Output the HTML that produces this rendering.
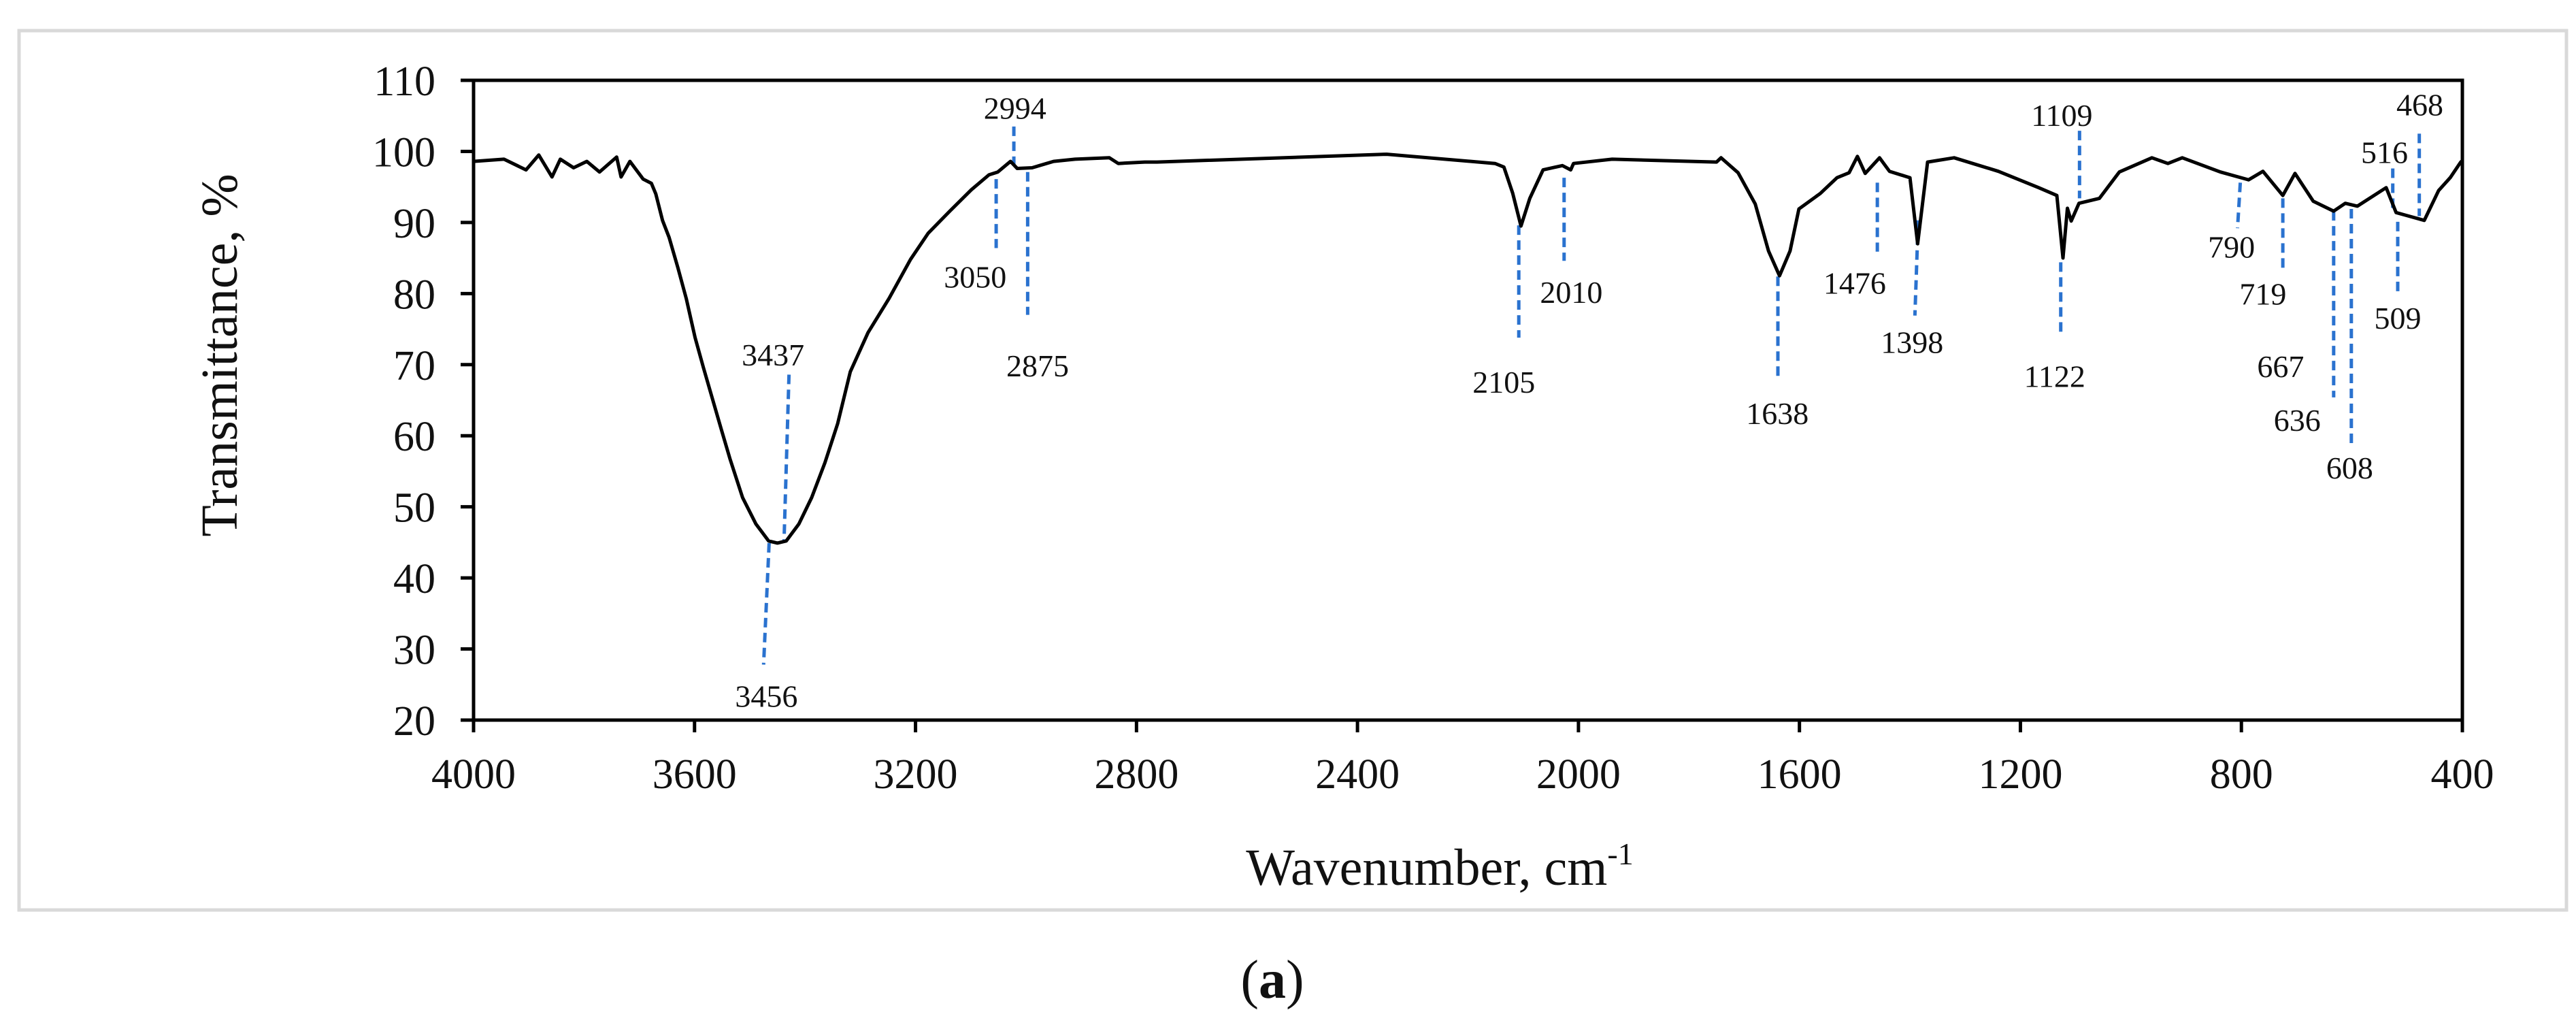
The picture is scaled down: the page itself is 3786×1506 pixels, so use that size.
<!DOCTYPE html>
<html><head><meta charset="utf-8"><style>
html,body{margin:0;padding:0;background:#fff;}
svg{display:block;}
text{font-family:"Liberation Serif",serif;fill:#111;}
</style></head><body>
<svg id="chart" width="3786" height="1506" viewBox="0 0 3786 1506" xmlns="http://www.w3.org/2000/svg">
<rect x="28" y="45" width="3744" height="1292" fill="#fff" stroke="#d9d9d9" stroke-width="5"/>
<g id="annots"></g>
<path id="curve" fill="none" stroke="#000" stroke-width="5" stroke-linejoin="round"/>
<rect x="696" y="118" width="2923" height="940" fill="none" stroke="#000" stroke-width="5"/>
<g id="yticks"></g>
<g id="xticks"></g>
<text transform="translate(348,522) rotate(-90)" text-anchor="middle" font-size="76">Transmittance,  %</text>
<text x="2116" y="1300" text-anchor="middle" font-size="76">Wavenumber,  cm<tspan font-size="46" dy="-30">-1</tspan></text>
<text x="1870" y="1466" text-anchor="middle" font-size="80">(<tspan font-weight="bold">a</tspan>)</text>
</svg>
<script>
const wavenumbers=[4000,3945,3905,3882,3858,3843,3819,3795,3772,3741,3733,3717,3693,3678,3670,3658,3646,3630,3615,3599,3584,3568,3552,3536,3513,3489,3466,3450,3434,3411,3388,3364,3341,3318,3286,3248,3209,3177,3138,3099,3067,3051,3028,3016,2989,2950,2911,2849,2833,2785,2763,2347,2151,2135,2119,2104,2088,2064,2029,2014,2009,1939,1750,1742,1711,1680,1656,1636,1617,1601,1562,1532,1510,1495,1481,1455,1437,1400,1386,1368,1320,1240,1167,1134,1123,1115,1108,1094,1057,1021,962,933,907,838,787,761,725,703,670,633,612,590,538,520,502,469,443,422,403,400];
const transmittance=[98.6,98.9,97.4,99.5,96.4,98.9,97.7,98.6,97.1,99.2,96.4,98.6,96.1,95.5,94.0,90.3,87.9,83.6,79.3,73.8,69.6,65.3,61.0,56.8,51.3,47.6,45.2,44.9,45.2,47.6,51.3,56.2,61.7,69.0,74.5,79.3,84.8,88.5,91.6,94.6,96.7,97.1,98.6,97.6,97.7,98.6,98.9,99.1,98.3,98.5,98.5,99.6,98.3,97.8,94.1,89.5,93.4,97.4,98.0,97.4,98.3,98.9,98.5,99.1,97.0,92.6,86.0,82.5,86.0,91.9,94.1,96.3,97.0,99.3,96.9,99.1,97.2,96.3,87.0,98.5,99.1,97.2,94.9,93.8,85.0,92.0,90.2,92.7,93.4,97.1,99.1,98.3,99.1,97.1,96.0,97.2,93.8,96.9,93.0,91.6,92.7,92.3,94.9,91.4,91.0,90.3,94.5,96.3,98.5,98.7];
const yTickLabels=["20","30","40","50","60","70","80","90","100","110"];
const xTickLabels=["4000","3600","3200","2800","2400","2000","1600","1200","800","400"];
const annotLabels=["3437","3456","2994","3050","2875","2105","2010","1638","1476","1398","1122","1109","790","719","667","636","608","509","516","468"];
const annotTopWn=[3429,3465,3022,3054,2997,2108,2026,1639,1459,1385,1127,1093,802,725,null,633,601,517,526,478];
const annotTopT=[68.6,44.9,103.5,96.1,97.1,89.6,96.3,82.4,95.6,90.3,84.4,102.9,95.6,93.4,null,91.6,91.9,90.1,97.6,102.5];
const annotBotWn=[3438,3475,3022,3054,2997,2108,2026,1639,1459,1391,1127,1093,807,725,null,633,601,517,526,478];
const annotBotT=[45.2,27.8,98.0,86.4,77.0,73.8,84.6,68.4,85.9,76.9,74.6,93.4,89.2,83.5,null,65.4,58.6,80.2,91.7,90.9];
const annotLabelWn=[3458,3470,3020,3092,2979,2135,2013,1640,1500,1396,1138,1125,818,761,729,699,604,517,541,477];
const annotLabelT=[71.4,23.4,106.1,82.4,69.9,67.6,80.2,63.2,81.5,73.2,68.4,105.1,86.6,80.0,69.8,62.2,55.5,76.6,99.9,106.6];

const X0=696,X1=3619,Y0=118,Y1=1058;
const xs=w=>X0+(4000-w)/3600*(X1-X0);
const ys=t=>Y0+(110-t)/90*(Y1-Y0);
const NS="http://www.w3.org/2000/svg";

let d="";
wavenumbers.forEach((w,i)=>{d+=(i?"L":"M")+xs(w).toFixed(1)+" "+ys(transmittance[i]).toFixed(1);});
document.getElementById("curve").setAttribute("d",d);

const yg=document.getElementById("yticks");
yTickLabels.forEach(l=>{
  const v=+l,y=ys(v);
  const t=document.createElementNS(NS,"line");
  t.setAttribute("x1",X0-19);t.setAttribute("x2",X0);t.setAttribute("y1",y);t.setAttribute("y2",y);
  t.setAttribute("stroke","#000");t.setAttribute("stroke-width","5");
  
  
  yg.appendChild(t);
  const tx=document.createElementNS(NS,"text");
  tx.setAttribute("x",640);tx.setAttribute("y",y+22);tx.setAttribute("text-anchor","end");tx.setAttribute("font-size","62");
  tx.textContent=l;
  
  
  yg.appendChild(tx);
});
const xg=document.getElementById("xticks");
xTickLabels.forEach(l=>{
  const x=xs(+l);
  const t=document.createElementNS(NS,"line");
  t.setAttribute("x1",x);t.setAttribute("x2",x);t.setAttribute("y1",Y1);t.setAttribute("y2",Y1+18);
  t.setAttribute("stroke","#000");t.setAttribute("stroke-width","5");
  
  
  xg.appendChild(t);
  const tx=document.createElementNS(NS,"text");
  tx.setAttribute("x",x);tx.setAttribute("y",1158);tx.setAttribute("text-anchor","middle");tx.setAttribute("font-size","62");
  tx.textContent=l;
  
  
  xg.appendChild(tx);
});
const ag=document.getElementById("annots");
annotLabels.forEach((l,i)=>{
  if(annotTopWn[i]!==null){
    const ln=document.createElementNS(NS,"line");
    ln.setAttribute("x1",xs(annotTopWn[i]));ln.setAttribute("y1",ys(annotTopT[i]));
    ln.setAttribute("x2",xs(annotBotWn[i]));ln.setAttribute("y2",ys(annotBotT[i]));
    ln.setAttribute("stroke","#2a72cf");ln.setAttribute("stroke-width","5");ln.setAttribute("stroke-dasharray","14 8");
    
    
    ag.appendChild(ln);
  }
  const tx=document.createElementNS(NS,"text");
  tx.setAttribute("x",xs(annotLabelWn[i]));tx.setAttribute("y",ys(annotLabelT[i])+16);
  tx.setAttribute("text-anchor","middle");tx.setAttribute("font-size","46");
  tx.textContent=l;
  
  
  ag.appendChild(tx);
});
</script>
</body></html>
